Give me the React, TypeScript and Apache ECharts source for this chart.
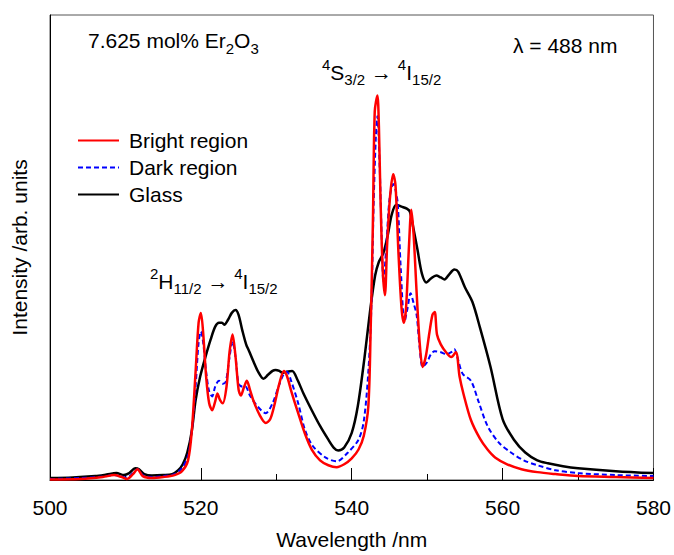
import React, { useEffect, useRef } from "react";
import * as echarts from "echarts";

const FONT = "'Liberation Sans', Arial, sans-serif";

const seriesNames = ["Bright region", "Dark region", "Glass"];
const xTicks = [500, 520, 540, 560, 580];

const brightWl = [500, 504, 507, 508.5, 509.5, 510.2, 511.0, 511.6, 512.3, 513.5, 515, 516.5, 517.5, 518.3, 518.8, 519.3, 519.7, 520.0, 520.3, 520.7, 521.1, 521.5, 521.9, 522.2, 522.5, 522.9, 523.4, 523.8, 524.2, 524.6, 525.0, 525.3, 525.7, 526.1, 526.5, 527.0, 527.8, 528.6, 529.2, 529.8, 530.4, 531.0, 531.4, 532.0, 532.9, 533.8, 534.7, 535.8, 536.9, 538.0, 539.0, 540.0, 540.9, 541.6, 542.2, 542.5, 542.8, 543.05, 543.4, 543.6, 543.8, 544.1, 544.4, 544.7, 545.1, 545.5, 545.8, 546.2, 546.6, 546.9, 547.2, 547.6, 547.9, 548.2, 548.6, 549.0, 549.4, 549.8, 550.3, 550.7, 551.0, 551.3, 551.8, 552.5, 553.2, 553.8, 554.3, 554.8, 555.8, 557.0, 558.0, 559.0, 560.6, 562.5, 564.6, 567, 570, 575, 580];
const brightI = [0.5, 1, 3, 5, 3, 1, 6, 11, 4, 2, 3, 5, 9, 20, 50, 110, 160, 170, 150, 105, 78, 71, 80, 88, 82, 78, 95, 130, 148, 125, 92, 86, 94, 101, 92, 80, 66, 58, 62, 78, 98, 111, 106, 90, 68, 47, 31, 20, 15, 13, 16, 22, 31, 45, 75, 150, 260, 375, 391, 360, 290, 215, 188, 241, 290, 311, 300, 230, 175, 160, 175, 240, 275, 250, 191, 140, 115, 125, 150, 168, 171, 148, 138, 130, 125, 130, 105, 88, 61, 42, 31, 23, 16, 11, 8, 6, 4, 3, 2];

const darkWl = [500, 504, 507, 508.5, 509.5, 510.2, 511.0, 511.6, 512.3, 513.5, 515, 516.5, 517.5, 518.3, 518.8, 519.3, 519.7, 520.0, 520.3, 520.7, 521.1, 521.5, 521.9, 522.4, 522.9, 523.3, 523.8, 524.2, 524.6, 525.0, 525.5, 525.9, 526.5, 527.5, 528.6, 529.5, 530.3, 531.0, 531.4, 532.0, 532.9, 533.8, 534.8, 536.5, 538.0, 539.5, 540.9, 541.6, 542.2, 542.6, 542.9, 543.2, 543.4, 543.7, 544.0, 544.2, 544.6, 545.0, 545.5, 545.8, 546.1, 546.5, 547.0, 547.4, 547.8, 548.2, 548.6, 549.0, 549.4, 550.0, 550.5, 551.0, 551.8, 552.5, 553.2, 553.6, 554.0, 554.7, 555.8, 556.8, 558.0, 559.5, 561.1, 562.8, 564.6, 567, 570, 575, 580];
const darkI = [1, 2, 3.5, 5, 3.5, 2.5, 7, 11, 5, 3, 4, 6, 12, 25, 50, 95, 140, 151, 140, 110, 90, 85, 95, 101, 98, 100, 125, 141, 125, 98, 95, 95, 86, 75, 68, 78, 95, 108, 110, 100, 78, 51, 35, 23, 19, 28, 41, 60, 110, 175, 280, 350, 370, 320, 240, 201, 240, 285, 301, 295, 281, 215, 161, 175, 190, 180, 168, 135, 115, 120, 128, 131, 130, 128, 130, 133, 125, 108, 101, 80, 55, 38, 28, 20, 15, 10, 7, 5, 4];

const glassWl = [500, 503, 506, 507.5, 508.8, 509.8, 510.5, 511.3, 511.8, 512.5, 513.5, 515, 516.2, 517.0, 517.6, 518.2, 518.8, 519.3, 519.9, 520.6, 521.3, 521.9, 522.4, 522.8, 523.1, 523.6, 524.1, 524.6, 525.0, 525.5, 526.0, 526.4, 527.0, 527.6, 528.3, 528.9, 529.5, 529.9, 530.4, 530.8, 531.3, 532.1, 532.8, 533.6, 534.7, 535.8, 536.9, 537.6, 538.2, 539.0, 540.0, 540.8, 541.7, 542.4, 543.1, 543.6, 544.2, 544.8, 545.3, 545.9, 546.6, 547.3, 547.7, 548.2, 548.7, 549.3, 549.9, 550.5, 551.2, 551.8, 552.3, 552.9, 553.6, 554.1, 555.0, 556.0, 557.0, 558.4, 560.0, 561.5, 563.0, 564.6, 566, 568, 570, 575, 580];
const glassI = [2, 2.5, 4, 5.5, 7, 5, 7, 12, 11, 6, 4.5, 5, 6, 10, 16, 28, 50, 81, 105, 125, 143, 156, 160, 160, 158, 163, 170, 173, 168, 152, 138, 131, 120, 110, 103, 107, 111, 112, 111, 109, 110, 111, 102, 88, 71, 55, 41, 33, 30, 33, 48, 75, 125, 170, 208, 222, 231, 250, 270, 280, 278, 276, 273, 255, 235, 210, 201, 205, 208, 206, 204, 209, 214, 212, 196, 181, 155, 115, 62, 41, 28, 20, 17, 14, 12, 9, 7];

const pairs = (xs: number[], ys: number[]) => xs.map((x, i) => [x, ys[i]]);

const richStyles = {
  n: { fontSize: 21, lineHeight: 30, fontFamily: FONT, color: "#000" },
  s: { fontSize: 15, lineHeight: 15, verticalAlign: "bottom", fontFamily: FONT, color: "#000" },
  p: { fontSize: 15, lineHeight: 15, verticalAlign: "top", fontFamily: FONT, color: "#000" },
};

function label(text: string, left: number, top: number) {
  return {
    type: "text",
    left,
    top,
    z: 10,
    style: { text, rich: richStyles, fill: "#000", font: `21px ${FONT}` },
  };
}

export default function App() {
  const ref = useRef<HTMLDivElement>(null);
  useEffect(() => {
    if (!ref.current) return;
    const chart = echarts.init(ref.current, undefined, { renderer: "svg" });
    const common = {
      type: "line",
      symbol: "none",
      showSymbol: false,
      smooth: 0.3,
    };
    chart.setOption({
      animation: false,
      backgroundColor: "#fff",
      textStyle: { fontFamily: FONT },
      grid: { left: 50, right: 17, top: 15, bottom: 67, show: true, borderColor: "#555", borderWidth: 1 },
      legend: {
        orient: "vertical",
        left: 72,
        top: 125,
        itemWidth: 41,
        itemHeight: 14,
        itemGap: 6,
        data: seriesNames,
        itemStyle: { opacity: 0, color: "transparent", borderWidth: 0 },
        textStyle: { fontSize: 21, color: "#000", fontFamily: FONT, padding: [0, 0, 0, 5] },
      },
      xAxis: {
        type: "value",
        min: xTicks[0],
        max: xTicks[xTicks.length - 1],
        interval: 20,
        name: "Wavelength /nm",
        nameLocation: "middle",
        nameGap: 49,
        nameTextStyle: { fontSize: 21, color: "#000", fontFamily: FONT },
        axisLine: { show: true, lineStyle: { color: "#000", width: 1 } },
        axisTick: { show: true, inside: true, length: 12, lineStyle: { color: "#000" } },
        minorTick: { show: true, splitNumber: 2, length: 6, lineStyle: { color: "#000" } },
        axisLabel: { fontSize: 21, color: "#000", margin: 17, fontFamily: FONT },
        splitLine: { show: false },
      },
      yAxis: {
        type: "value",
        min: 0,
        max: 473,
        name: "Intensity /arb. units",
        nameLocation: "middle",
        nameGap: 20,
        nameRotate: 90,
        nameTextStyle: { fontSize: 21, color: "#000", fontFamily: FONT },
        axisLine: { show: true, lineStyle: { color: "#000", width: 1 } },
        axisTick: { show: false },
        axisLabel: { show: false },
        splitLine: { show: false },
      },
      series: [
        {
          ...common,
          name: seriesNames[0],
          z: 4,
          data: pairs(brightWl, brightI),
          lineStyle: { color: "#ff0000", width: 2.5 },
          itemStyle: { color: "#ff0000" },
        },
        {
          ...common,
          name: seriesNames[1],
          z: 3,
          data: pairs(darkWl, darkI),
          lineStyle: { color: "#0000ff", width: 2, type: [5, 3] },
          itemStyle: { color: "#0000ff" },
        },
        {
          ...common,
          name: seriesNames[2],
          z: 2,
          data: pairs(glassWl, glassI),
          lineStyle: { color: "#000000", width: 2.5 },
          itemStyle: { color: "#000000" },
        },
      ],
      graphic: [
        label("{n|7.625 mol% Er}{s|2}{n|O}{s|3}", 88, 30),
        label("{n|λ = 488 nm}", 513, 35),
        label("{p|4}{n|S}{s|3/2}{n| → }{p|4}{n|I}{s|15/2}", 322, 57),
        label("{p|2}{n|H}{s|11/2}{n| → }{p|4}{n|I}{s|15/2}", 150, 266),
      ],
    });
    return () => chart.dispose();
  }, []);
  return (
    <div
      ref={ref}
      style={{ position: "absolute", left: 0, top: 0, width: 674, height: 555 }}
    />
  );
}
